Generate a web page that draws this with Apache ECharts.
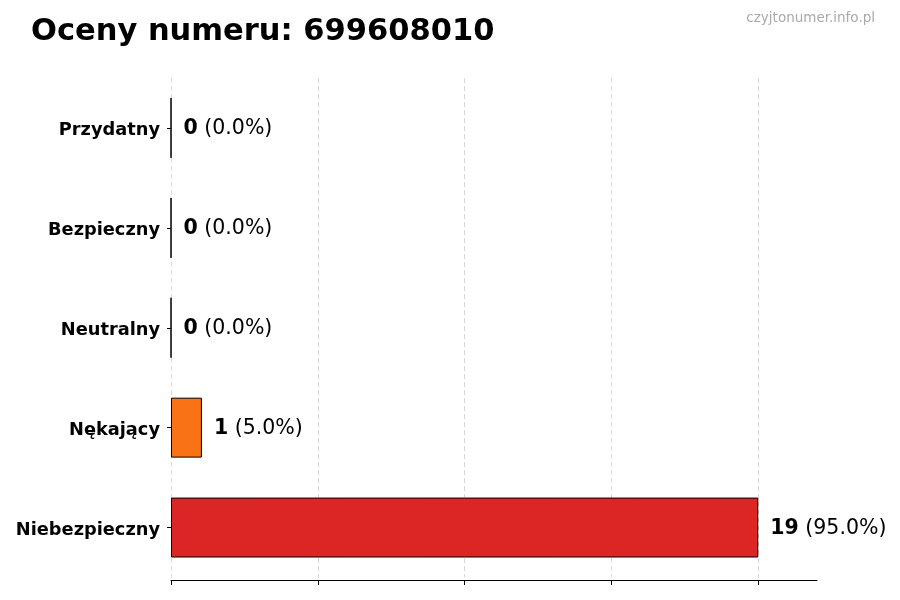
<!DOCTYPE html>
<html>
<head>
<meta charset="utf-8">
<script src="https://cdn.jsdelivr.net/npm/echarts@6/dist/echarts.min.js"></script>
<style>html,body{margin:0;padding:0;background:#fff}#c{width:900px;height:600px}</style>
</head>
<body>
<div id="c"></div>
<script>
const categories = ['Przydatny', 'Bezpieczny', 'Neutralny', 'Nękający', 'Niebezpieczny'];
const counts = [0, 0, 0, 1, 19];
const barColors = ['#2ca02c', '#1f77b4', '#9e9e9e', '#f97316', '#dc2626'];
const xTicks = [0, 4.75, 9.5, 14.25, 19];
const xMax = 20.9;
const titleText = 'Oceny numeru: 699608010';
const watermark = 'czyjtonumer.info.pl';

const total = counts.reduce((a, b) => a + b, 0);
const chart = echarts.init(document.getElementById('c'));
const font = 'DejaVu Sans';
chart.setOption({
  animation: false,
  title: [{
    text: titleText, left: 26, top: 12,
    textStyle: { fontFamily: font, fontSize: 30.5, fontWeight: 'bold', color: '#000' }
  }, {
    text: watermark, right: 20, top: 6,
    textStyle: { fontFamily: font, fontSize: 13.5, fontWeight: 'normal', color: '#aaaaaa' }
  }],
  grid: { left: 171, right: 83, top: 78, bottom: 22.5 },
  xAxis: {
    type: 'value', min: 0, max: xMax, interval: 4.75, offset: 2.5,
    axisLine: { show: true, lineStyle: { color: '#000', width: 1 } },
    axisTick: { show: true, length: 5, lineStyle: { color: '#000' }, customValues: xTicks },
    axisLabel: { show: false },
    splitLine: { show: true, customValues: xTicks, lineStyle: { type: [5, 3], color: '#d9d9d9', width: 1 } }
  },
  yAxis: {
    type: 'category', data: categories, inverse: true,
    axisLine: { show: false },
    axisTick: { show: true, length: 4, alignWithLabel: true, lineStyle: { color: '#000' } },
    axisLabel: {
      margin: 11,
      formatter: v => '{a|' + v + '}',
      rich: { a: { padding: [5, 0, 0, 0], fontFamily: font, fontSize: 17.8, fontWeight: 'bold', color: '#000' } }
    }
  },
  series: [{
    type: 'bar',
    barCategoryGap: '40%',
    data: counts.map((v, i) => ({ value: v, itemStyle: { color: barColors[i] } })),
    itemStyle: { borderColor: '#000', borderWidth: 1 },
    label: {
      show: true, position: 'right', distance: 12, padding: [2, 0, 0, 0],
      formatter: p => '{b|' + p.value + '}{n| (' + (p.value / total * 100).toFixed(1) + '%)}',
      rich: {
        b: { fontFamily: font, fontSize: 20.5, fontWeight: 'bold', color: '#000' },
        n: { fontFamily: font, fontSize: 20.5, fontWeight: 'normal', color: '#000' }
      }
    }
  }]
});
</script>
</body>
</html>
